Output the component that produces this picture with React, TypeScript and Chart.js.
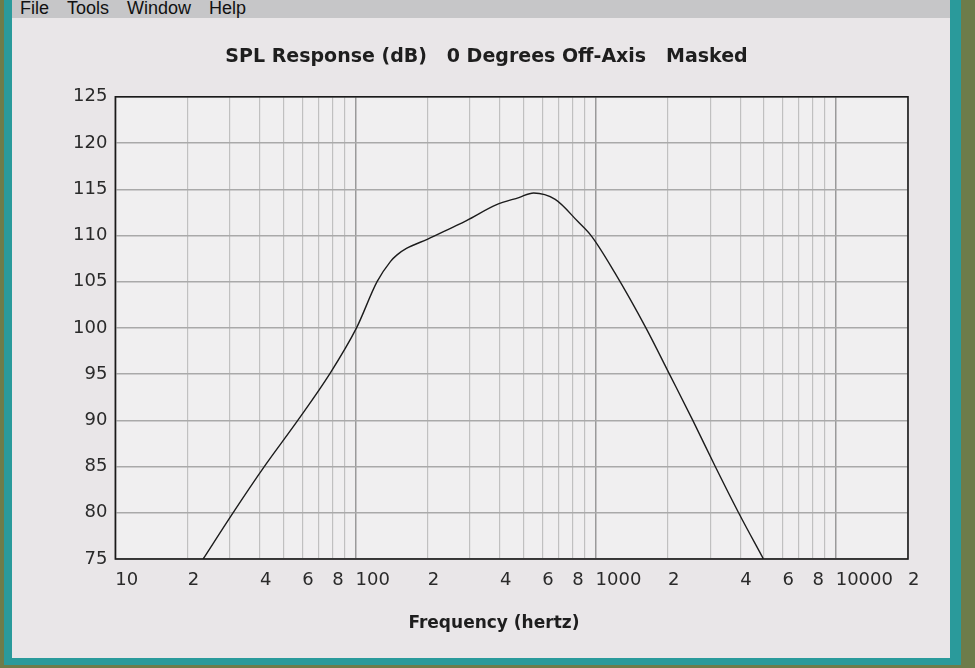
import React, { useEffect, useRef } from "react";
import { Chart, registerables } from "chart.js";

Chart.register(...registerables);

const TITLE = "SPL Response (dB)   0 Degrees Off-Axis   Masked";
const X_TITLE = "Frequency (hertz)";
const MENU_ITEMS = ["File", "Tools", "Window", "Help"];

const freqHz = [23.2, 30.9, 41.7, 57.5, 78, 101, 123, 140, 149, 163, 200, 250, 290, 385, 479, 552, 679, 844, 963, 1200, 1620, 2030, 2540, 3150, 3940, 5000];
const splDb = [75, 80, 85, 90, 95, 100, 105, 107.2, 107.9, 108.6, 109.6, 110.8, 111.6, 113.3, 114.1, 114.6, 113.9, 111.5, 109.9, 106, 100, 95, 90, 85, 80, 75];

const xTickValues = [10, 20, 30, 40, 50, 60, 70, 80, 90, 100, 200, 300, 400, 500, 600, 700, 800, 900, 1000, 2000, 3000, 4000, 5000, 6000, 7000, 8000, 9000, 10000, 20000];
const xLabelMap: Record<number, string> = {
  10: "10", 20: "2", 40: "4", 60: "6", 80: "8",
  100: "100", 200: "2", 400: "4", 600: "6", 800: "8",
  1000: "1000", 2000: "2", 4000: "4", 6000: "6", 8000: "8",
  10000: "10000", 20000: "2",
};
const decades = [10, 100, 1000, 10000];

const Y_MIN = 75;
const Y_MAX = 125;
const Y_STEP = 5;
const X_MIN = 10;
const X_MAX = 20000;

export default function App() {
  const ref = useRef<HTMLCanvasElement | null>(null);

  useEffect(() => {
    document.body.style.margin = "0";
    const canvas = ref.current;
    if (!canvas) return;
    const areaPlugin = {
      id: "plotArea",
      beforeDraw(chart: any) {
        const { ctx, chartArea } = chart;
        ctx.save();
        ctx.fillStyle = "#f0eff0";
        ctx.fillRect(chartArea.left, chartArea.top, chartArea.right - chartArea.left, chartArea.bottom - chartArea.top);
        ctx.restore();
      },
      afterDraw(chart: any) {
        const { ctx, chartArea } = chart;
        ctx.save();
        ctx.strokeStyle = "#1a1a1a";
        ctx.lineWidth = 1.6;
        ctx.strokeRect(chartArea.left, chartArea.top, chartArea.right - chartArea.left, chartArea.bottom - chartArea.top);
        ctx.restore();
      },
    };
    const chart = new Chart(canvas, {
      type: "line",
      data: {
        datasets: [
          {
            data: freqHz.map((f, i) => ({ x: f, y: splDb[i] })),
            borderColor: "#1c1c1c",
            borderWidth: 1.4,
            pointRadius: 0,
            cubicInterpolationMode: "monotone",
            fill: false,
          },
        ],
      },
      options: {
        animation: false,
        responsive: false,
        layout: { padding: { left: 65, right: 67, top: 0, bottom: 34 } },
        plugins: {
          legend: { display: false },
          tooltip: { enabled: false },
          title: {
            display: true,
            text: TITLE,
            color: "#1e1e1e",
            font: { family: "'DejaVu Sans', sans-serif", size: 19, weight: "bold" },
            padding: { top: 46, bottom: 28 },
          },
        },
        scales: {
          x: {
            type: "logarithmic",
            min: X_MIN,
            max: X_MAX,
            afterBuildTicks(scale: any) {
              scale.ticks = xTickValues.map((v) => ({ value: v }));
            },
            ticks: {
              autoSkip: false,
              maxRotation: 0,
              minRotation: 0,
              align: "start",
              padding: 11,
              color: "#2a2a2a",
              font: { family: "'DejaVu Sans', sans-serif", size: 18 },
              callback: (v: any) => xLabelMap[Number(v)] ?? "",
            },
            grid: {
              drawTicks: false,
              color: (ctx: any) => (decades.includes(ctx.tick?.value) ? "#9a9a9a" : "#c0c0c0"),
              lineWidth: (ctx: any) => (decades.includes(ctx.tick?.value) ? 1.5 : 1.2),
            },
            border: { display: false },
            title: {
              display: true,
              text: X_TITLE + "      ",
              color: "#1e1e1e",
              font: { family: "'DejaVu Sans', sans-serif", size: 17, weight: "bold" },
              padding: { top: 11, bottom: 0 },
            },
          },
          y: {
            min: Y_MIN,
            max: Y_MAX,
            ticks: {
              stepSize: Y_STEP,
              padding: 8,
              color: "#2a2a2a",
              font: { family: "'DejaVu Sans', sans-serif", size: 18 },
            },
            grid: { drawTicks: false, color: "#a9a9a9", lineWidth: 1.4 },
            border: { display: false },
          },
        },
      },
      plugins: [areaPlugin],
    } as any);
    return () => chart.destroy();
  }, []);

  return (
    <div style={{ position: "fixed", left: 0, top: 0, width: 975, height: 668, background: "#6d7c4a", overflow: "hidden" }}>
      <div style={{ position: "absolute", left: 4, top: 0, width: 957, height: 665, background: "#2a9a9b" }} />
      <div style={{ position: "absolute", left: 12, top: 18, width: 938, height: 640, background: "#e9e6e8" }} />
      <div
        style={{
          position: "absolute", left: 12, top: 0, width: 938, height: 18, background: "#c6c6c8", overflow: "hidden",
          fontFamily: "'Liberation Sans', Arial, sans-serif", fontSize: 18, color: "#111", lineHeight: "16px",
          display: "flex", gap: 18, paddingLeft: 8, boxSizing: "border-box",
        }}
      >
        {MENU_ITEMS.map((m) => (
          <span key={m}>{m}</span>
        ))}
      </div>
      <canvas ref={ref} width={975} height={668} style={{ position: "absolute", left: 0, top: 0, display: "block" }} />
    </div>
  );
}
